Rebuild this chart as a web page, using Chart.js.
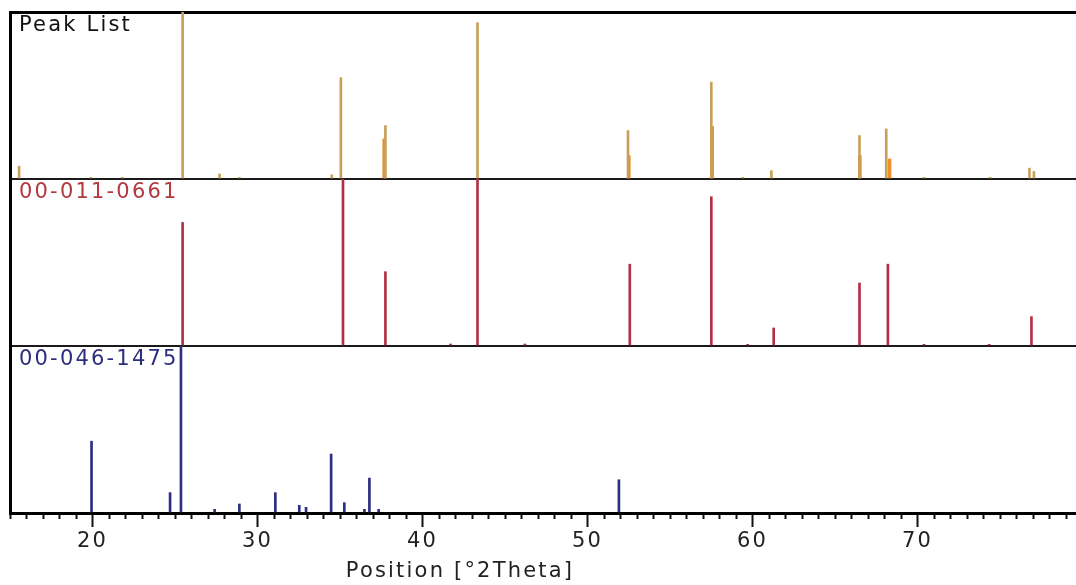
<!DOCTYPE html>
<html>
<head>
<meta charset="utf-8">
<script src="https://cdn.jsdelivr.net/npm/chart.js@4.4.0/dist/chart.umd.min.js"></script>
<style>
html,body{margin:0;padding:0;background:#fff;}
#wrap{position:relative;width:1076px;height:585px;}
</style>
</head>
<body>
<div id="wrap"><canvas id="c" width="1076" height="585"></canvas></div>
<script>
// ---- data ----
const xMin = 15, xMax = 79.6;
const majorStep = 10, minorStep = 1;
const panelLabels = ['Peak List', '00-011-0661', '00-046-1475'];
const axisTitle = 'Position [°2Theta]';

// Peak List (main sticks)
const peakPos = [15.55, 19.9, 21.8, 25.46, 27.7, 28.9, 34.5, 35.05, 37.75, 43.33, 52.45, 57.5, 59.4, 61.14, 66.48, 68.1, 70.4, 74.4, 76.78, 77.05];
const peakInt = [7.7, 1, 1, 100, 3, 1, 2.5, 60.7, 32, 93.6, 29, 58, 1, 5, 26, 30, 1, 1, 6.5, 4.5];
// Peak List (orange overlay sticks)
const peak2Pos = [37.68, 52.5, 57.55, 66.5, 68.3];
const peak2Int = [24, 14, 31.5, 14, 12];

// Reference 00-011-0661
const refAPos = [25.46, 35.18, 37.75, 41.7, 43.33, 46.2, 52.56, 57.5, 59.7, 61.28, 66.48, 68.2, 70.39, 74.34, 76.9];
const refAInt = [74, 100, 44.5, 1.2, 100, 1.2, 49, 89.4, 1, 10.8, 37.7, 49, 1, 1, 17.6];

// Reference 00-046-1475
const refBPos = [19.94, 24.7, 25.36, 27.4, 28.9, 31.08, 32.53, 32.94, 34.46, 35.26, 36.48, 36.78, 37.34, 51.9];
const refBInt = [43, 12.2, 100, 2.2, 5.4, 12.2, 4.6, 3.4, 35.3, 6.2, 2.2, 20.9, 2.2, 19.9];

// ---- styling ----
const FONT_FAMILY = '"DejaVu Sans", Verdana, sans-serif';
const FONT_SIZE = 21;
const LS = '2.2px';
const labelColors = ['#111111', '#b23a3f', '#2d2d7e'];
const panelIds = ['yA', 'yB', 'yC'];

const toXY = (xs, ys) => xs.map((x, i) => ({x: x, y: ys[i]}));

const panelPlugin = {
  id: 'panels',
  beforeLayout(chart) { chart.ctx.letterSpacing = LS; },
  beforeDraw(chart) { chart.ctx.letterSpacing = LS; },
  afterDraw(chart) {
    const ctx = chart.ctx, area = chart.chartArea;
    ctx.save();
    ctx.letterSpacing = LS;
    ctx.font = FONT_SIZE + 'px ' + FONT_FAMILY;
    ctx.textAlign = 'left';
    ctx.textBaseline = 'top';
    panelIds.forEach((id, i) => {
      const s = chart.scales[id];
      ctx.fillStyle = labelColors[i];
      ctx.fillText(panelLabels[i], area.left + 9, s.top + 3);
    });
    ctx.fillStyle = '#222';
    ctx.textAlign = 'center';
    ctx.textBaseline = 'middle';
    ctx.fillText(axisTitle, 460, 572);
    ctx.restore();
  }
};

function yAxis(isTop) {
  return {
    type: 'linear', position: 'left', stack: 'panels', stackWeight: 1,
    min: 0, max: 100,
    ticks: {display: false, stepSize: 100},
    grid: {
      drawTicks: false,
      color: c => (c.tick && c.tick.value === 0) ? '#1a1a1a' : ((isTop && c.tick && c.tick.value === 100) ? '#000' : 'rgba(0,0,0,0)'),
      lineWidth: c => (isTop && c.tick && c.tick.value === 100) ? 3 : 2
    },
    border: {display: true, color: '#000', width: 3},
    afterFit: s => { s.width = 0; }
  };
}

const barCommon = {barThickness: 2, grouped: false, borderWidth: 0};

new Chart(document.getElementById('c'), {
  type: 'bar',
  data: {
    datasets: [
      Object.assign({label: 'Peak List', data: toXY(peakPos, peakInt), backgroundColor: '#c9a05a', yAxisID: 'yA', xAxisID: 'x'}, barCommon),
      Object.assign({label: 'Peak List b', data: toXY(peak2Pos, peak2Int), backgroundColor: '#e8912c', yAxisID: 'yA', xAxisID: 'x'}, barCommon, {barThickness: 3}),
      Object.assign({label: panelLabels[1], data: toXY(refAPos, refAInt), backgroundColor: '#b23045', yAxisID: 'yB', xAxisID: 'x'}, barCommon),
      Object.assign({label: panelLabels[2], data: toXY(refBPos, refBInt), backgroundColor: '#2e2e82', yAxisID: 'yC', xAxisID: 'x'}, barCommon)
    ]
  },
  options: {
    responsive: false,
    animation: false,
    devicePixelRatio: 1,
    layout: {padding: {top: 12, left: 10, right: 0, bottom: 0}},
    plugins: {legend: {display: false}, tooltip: {enabled: false}},
    scales: {
      x: {
        type: 'linear', position: 'bottom', min: xMin, max: xMax, offset: false,
        ticks: {display: false, stepSize: minorStep, includeBounds: false},
        grid: {offset: false, drawOnChartArea: false, drawTicks: true, tickLength: 6, tickWidth: 2, tickColor: '#111'},
        border: {display: true, color: '#000', width: 3},
        afterFit: s => { s.height = 6; }
      },
      x2: {
        type: 'linear', position: 'bottom', min: xMin, max: xMax, offset: false,
        ticks: {stepSize: majorStep, includeBounds: false, padding: 2, color: '#222', autoSkip: false,
                font: {family: FONT_FAMILY, size: FONT_SIZE}, maxRotation: 0},
        grid: {offset: false, drawOnChartArea: false, drawTicks: true, tickLength: 8, tickWidth: 2, tickColor: '#111'},
        border: {display: false},
        afterFit: s => { s.height = 66; }
      },
      yC: yAxis(false),
      yB: yAxis(false),
      yA: yAxis(true)
    }
  },
  plugins: [panelPlugin]
});
</script>
</body>
</html>
